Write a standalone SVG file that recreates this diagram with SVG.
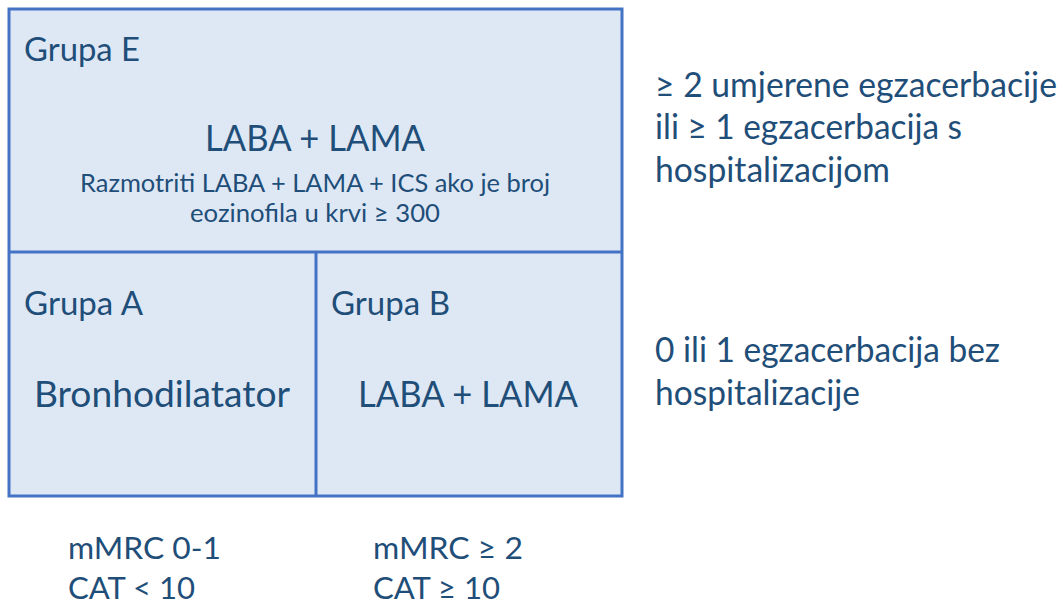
<svg xmlns="http://www.w3.org/2000/svg" width="1063" height="607" viewBox="0 0 1063 607">
<style>
.box{fill:#DEE8F5;stroke:#4472C4;stroke-width:3}
.line{stroke:#4472C4;stroke-width:3;fill:none}
text{font-family:Lato,"Open Sans",sans-serif;fill:#1F4E79}
.lbl{font-size:32px}
.main{font-size:36px;text-anchor:middle}
.sub{font-size:25px;text-anchor:middle}
.side{font-size:34px}
.bot{font-size:31.5px}
</style>
<rect width="1063" height="607" fill="#FFFFFF"/>
<g id="grid">
<rect class="box" x="9" y="9" width="613" height="487"/>
<line class="line" x1="9" y1="252" x2="622" y2="252"/>
<line class="line" x1="316" y1="252" x2="316" y2="496"/>
</g>
<g id="grupaE">
<text class="lbl" x="24" y="61" textLength="116" lengthAdjust="spacingAndGlyphs">Grupa E</text>
<text class="main" x="315" y="151" textLength="220" lengthAdjust="spacingAndGlyphs">LABA + LAMA</text>
<text class="sub" x="315" y="192" textLength="470" lengthAdjust="spacingAndGlyphs">Razmotriti LABA + LAMA + ICS ako je broj</text>
<text class="sub" x="315" y="222" textLength="250" lengthAdjust="spacingAndGlyphs">eozinofila u krvi ≥ 300</text>
</g>
<g id="grupaA">
<text class="lbl" x="24" y="315" textLength="119" lengthAdjust="spacingAndGlyphs">Grupa A</text>
<text class="main" x="162" y="407" textLength="256" lengthAdjust="spacingAndGlyphs">Bronhodilatator</text>
</g>
<g id="grupaB">
<text class="lbl" x="331" y="315" textLength="119" lengthAdjust="spacingAndGlyphs">Grupa B</text>
<text class="main" x="468" y="407" textLength="220" lengthAdjust="spacingAndGlyphs">LABA + LAMA</text>
</g>
<g id="right">
<text class="side" x="655" y="97" textLength="402" lengthAdjust="spacingAndGlyphs">≥ 2 umjerene egzacerbacije</text>
<text class="side" x="655" y="139" textLength="307" lengthAdjust="spacingAndGlyphs">ili ≥ 1 egzacerbacija s</text>
<text class="side" x="655" y="182" textLength="235" lengthAdjust="spacingAndGlyphs">hospitalizacijom</text>
<text class="side" x="655" y="362" textLength="345" lengthAdjust="spacingAndGlyphs">0 ili 1 egzacerbacija bez</text>
<text class="side" x="655" y="405" textLength="205" lengthAdjust="spacingAndGlyphs">hospitalizacije</text>
</g>
<g id="bottom">
<text class="bot" x="68" y="559" textLength="153" lengthAdjust="spacingAndGlyphs">mMRC 0-1</text>
<text class="bot" x="68" y="599" textLength="127" lengthAdjust="spacingAndGlyphs">CAT &lt; 10</text>
<text class="bot" x="373" y="559" textLength="150" lengthAdjust="spacingAndGlyphs">mMRC ≥ 2</text>
<text class="bot" x="373" y="599" textLength="127" lengthAdjust="spacingAndGlyphs">CAT ≥ 10</text>
</g>
<g id="connectors"></g>
</svg>
